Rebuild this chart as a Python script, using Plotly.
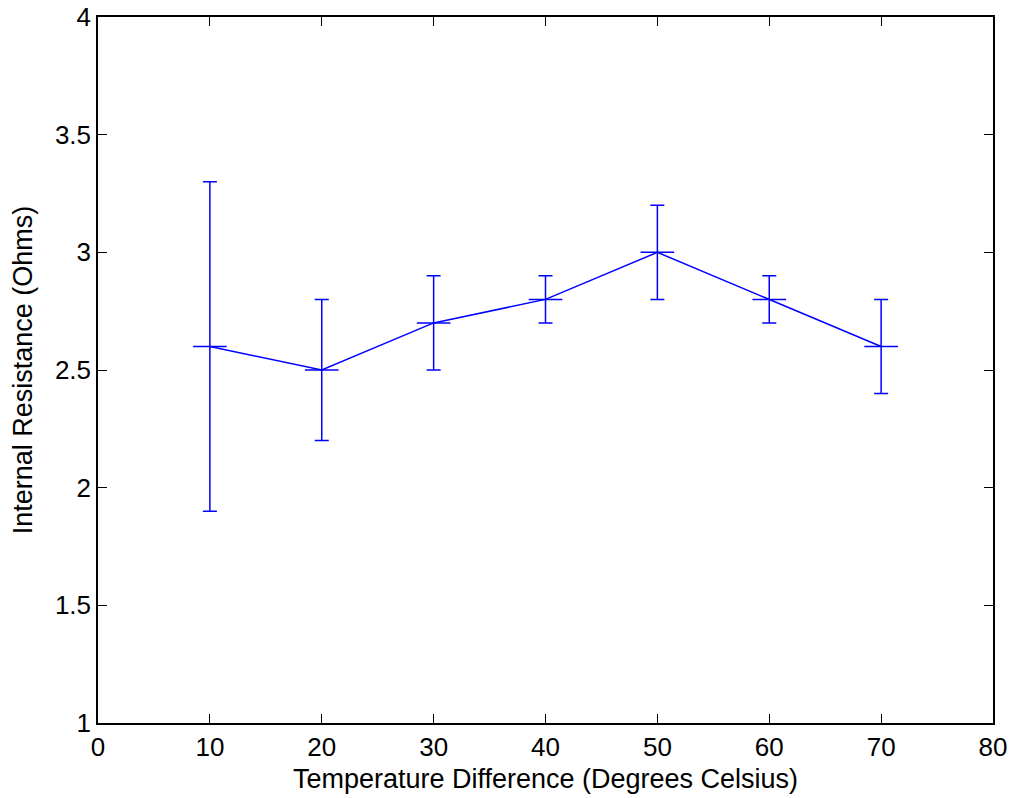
import plotly.graph_objects as go

temp_diff = [10, 20, 30, 40, 50, 60, 70]
resistance = [2.6, 2.5, 2.7, 2.8, 3.0, 2.8, 2.6]
err_plus = [0.7, 0.3, 0.2, 0.1, 0.2, 0.1, 0.2]
err_minus = [0.7, 0.3, 0.2, 0.1, 0.2, 0.1, 0.2]
x_ticks = [0, 10, 20, 30, 40, 50, 60, 70, 80]
y_ticks = [1, 1.5, 2, 2.5, 3, 3.5, 4]
y_tick_text = ["1", "1.5", "2", "2.5", "3", "3.5", "4"]

fig = go.Figure()
fig.add_trace(go.Scatter(
    x=temp_diff, y=resistance,
    mode="lines+markers",
    line=dict(color="#0000ff", width=1.5),
    marker=dict(symbol="line-ew", size=24, line=dict(color="#0000ff", width=1.5)),
    error_y=dict(type="data", symmetric=False, array=err_plus, arrayminus=err_minus,
                 color="#0000ff", thickness=1.5, width=7),
    showlegend=False,
))

font = "Liberation Sans, Arial, sans-serif"
axis_common = dict(
    showgrid=False, zeroline=False, showline=True, linecolor="black", linewidth=1.5,
    mirror="ticks", ticks="inside", ticklen=9, tickwidth=1, tickcolor="black",
    tickfont=dict(family=font, size=26, color="black"), automargin=False,
)
fig.update_layout(
    width=1011, height=798,
    margin=dict(l=98, r=18, t=17, b=75),
    paper_bgcolor="white", plot_bgcolor="white",
    xaxis=dict(range=[0, 80], tickvals=x_ticks, ticktext=[str(v) for v in x_ticks],
               title=dict(text="Temperature Difference (Degrees Celsius)",
                          font=dict(family=font, size=27, color="black"), standoff=8),
               **axis_common),
    yaxis=dict(range=[1, 4], tickvals=y_ticks, ticktext=y_tick_text,
               title=dict(text="Internal Resistance (Ohms)",
                          font=dict(family=font, size=27, color="black"), standoff=14),
               **axis_common),
)
fig.write_html("out.html")
